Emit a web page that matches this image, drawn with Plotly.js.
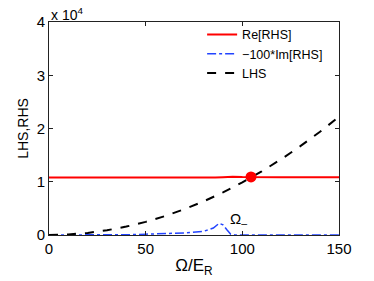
<!DOCTYPE html>
<html><head><meta charset="utf-8">
<script src="https://cdn.plot.ly/plotly-3.0.1.min.js"></script>
<style>html,body{margin:0;padding:0;background:#fff}#c{width:374px;height:281px}</style>
</head><body><div id="c"></div>
<script>
const omegaRe = [0, 10, 20, 40, 60, 80, 86, 90, 95, 100, 105, 120, 150];
const reRHS   = [10800, 10790, 10770, 10760, 10760, 10770, 10800, 10850, 10950, 10900, 10860, 10860, 10860];
const omegaIm = [0, 20, 40, 50, 60, 70, 80, 85, 88, 90, 92, 94, 96, 120, 150];
const imRHS   = [0, 0, 50, 150, 250, 400, 700, 1300, 2200, 1900, 1000, 150, 0, 0, 0];
const omegaL  = [0, 10, 20, 30, 40, 50, 60, 70, 80, 90, 100, 110, 120, 130, 140, 150];
const lhs     = [0, 99, 395, 888, 1580, 2470, 3550, 4840, 6320, 8000, 9870, 11940, 14210, 16680, 19340, 22200];
const crossing = {x: [104.5], y: [10900]};
const xTicks = [0, 50, 100, 150];
const yTicks = [0, 10000, 20000, 30000, 40000];
const yTickText = ['0', '1', '2', '3', '4'];

const fam = 'Liberation Sans, Arial, sans-serif';
const font = {family: fam, size: 15, color: '#000'};
const data = [
  {x: omegaRe, y: reRHS, mode: 'lines', name: 'Re[RHS]', line: {color: '#ff0000', width: 2}},
  {x: omegaIm, y: imRHS, mode: 'lines', name: '\u2212100*Im[RHS]', line: {color: '#2244ff', width: 1.5, dash: 'dashdot'}},
  {x: omegaL, y: lhs, mode: 'lines', name: 'LHS', line: {color: '#000', width: 2, dash: 'dash'}},
  {x: crossing.x, y: crossing.y, mode: 'markers', showlegend: false, marker: {color: '#ff0000', size: 11}}
];
const axisCommon = {showline: true, mirror: 'ticks', linecolor: '#222', linewidth: 1, ticks: 'inside', ticklen: 4, tickcolor: '#222', showgrid: false, zeroline: false, tickfont: font};
const layout = {
  width: 374, height: 281,
  margin: {l: 48.5, r: 35, t: 22, b: 46},
  paper_bgcolor: '#fff', plot_bgcolor: '#fff',
  font: font,
  xaxis: Object.assign({}, axisCommon, {range: [0, 150], tickvals: xTicks,
    title: {text: '\u03A9/E<sub>R</sub>', font: {family: fam, size: 17}, standoff: 3}}),
  yaxis: Object.assign({}, axisCommon, {range: [0, 40000], tickvals: yTicks, ticktext: yTickText,
    title: {text: 'LHS,RHS', font: {family: fam, size: 14}, standoff: 4}}),
  legend: {x: 0.528, y: 1.01, xanchor: 'left', yanchor: 'top', bgcolor: 'rgba(0,0,0,0)', font: {family: fam, size: 12.5}, tracegroupgap: 0, itemwidth: 30},
  annotations: [
    {x: 0, y: 1, xref: 'paper', yref: 'paper', xanchor: 'left', yanchor: 'bottom', showarrow: false,
     text: 'x 10<sup>4</sup>', font: {family: fam, size: 14}, yshift: -3},
    {x: 98, y: 3000, xref: 'x', yref: 'y', showarrow: false, text: '\u03A9<sub>\u2013</sub>', font: {family: fam, size: 15}}
  ]
};
Plotly.newPlot('c', data, layout, {staticPlot: true, displayModeBar: false});
</script></body></html>
